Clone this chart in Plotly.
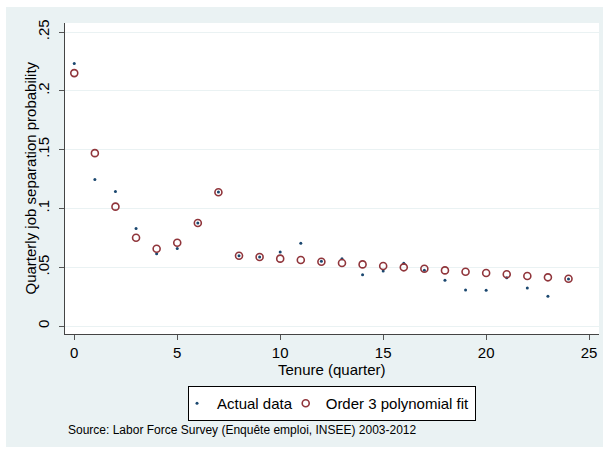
import plotly.graph_objects as go

# Tenure in quarters
tenure = list(range(25))

# Observed quarterly job separation probability
actual = [0.2232, 0.1247, 0.1145, 0.0830, 0.0615, 0.0660, 0.0876, 0.1140,
          0.0598, 0.0587, 0.0630, 0.0703, 0.0550, 0.0573, 0.0436, 0.0468,
          0.0533, 0.0475, 0.0389, 0.0306, 0.0304, 0.0411, 0.0323, 0.0253,
          0.0400]

# Fitted values (order 3 polynomial)
fitted = [0.2151, 0.1470, 0.1015, 0.0750, 0.0657, 0.0708, 0.0876, 0.1137,
          0.0598, 0.0587, 0.0573, 0.0561, 0.0547, 0.0536, 0.0524, 0.0510,
          0.0499, 0.0487, 0.0473, 0.0462, 0.0451, 0.0440, 0.0425, 0.0414,
          0.0402]

y_tickvals = [0, 0.05, 0.1, 0.15, 0.2, 0.25]
y_ticktext = ["0", ".05", ".1", ".15", ".2", ".25"]
x_tickvals = [0, 5, 10, 15, 20, 25]

NAVY = "#1a476f"
MAROON = "#90353b"
BG = "#eaf2f3"
FONT = "Liberation Sans, Arial, sans-serif"

W, H = 608, 450
L, R, T, B = 65, 9, 23, 116
pw, ph = W - L - R, H - T - B


def px_x(p):
    return (p - L) / pw


def px_y(p):
    return (H - B - p) / ph


fig = go.Figure()
fig.add_trace(go.Scatter(
    x=tenure, y=actual, mode="markers", name="Actual data",
    marker=dict(color=NAVY, size=3, symbol="circle"),
))
fig.add_trace(go.Scatter(
    x=tenure, y=fitted, mode="markers", name="Order 3 polynomial fit",
    marker=dict(color=MAROON, size=7, symbol="circle-open",
                line=dict(color=MAROON, width=1.6)),
))

shapes = [
    # graph region background
    dict(type="rect", xref="paper", yref="paper", layer="below",
         x0=px_x(6), x1=px_x(603), y0=px_y(447), y1=px_y(7),
         fillcolor=BG, line=dict(width=0)),
    # plot region
    dict(type="rect", xref="paper", yref="paper", layer="below",
         x0=0, x1=1, y0=0, y1=1, fillcolor="white", line=dict(width=0)),
]

fig.update_layout(
    width=W, height=H,
    margin=dict(l=L, r=R, t=T, b=B),
    paper_bgcolor="white",
    plot_bgcolor="white",
    font=dict(family=FONT, size=15, color="black"),
    shapes=shapes,
    showlegend=True,
    legend=dict(
        orientation="h", x=0.5, xanchor="center", y=px_y(386), yanchor="top",
        bgcolor="white", bordercolor="black", borderwidth=1,
        font=dict(family=FONT, size=15, color="black"),
        itemwidth=30, indentation=-12,
    ),
    annotations=[
        dict(text="Source: Labor Force Survey (Enquête emploi, INSEE) 2003-2012",
             xref="paper", yref="paper", x=px_x(66), y=px_y(430),
             xanchor="left", yanchor="middle", showarrow=False,
             font=dict(family=FONT, size=12, color="black")),
        dict(text="Tenure (quarter)", xref="paper", yref="paper",
             x=0.5, y=px_y(369), xanchor="center", yanchor="middle",
             showarrow=False, font=dict(family=FONT, size=15, color="black")),
        dict(text="Quarterly job separation probability", xref="paper",
             yref="paper", x=px_x(30), y=0.5, xanchor="center",
             yanchor="middle", textangle=-90, showarrow=False,
             font=dict(family=FONT, size=15, color="black")),
    ],
)

fig.update_xaxes(
    range=[-0.45, 25.48], tickvals=x_tickvals, ticks="outside", ticklen=5,
    tickcolor="#555555", showline=True, linecolor="#444444", linewidth=1,
    showgrid=False, zeroline=False, tickfont=dict(size=15),
)
fig.update_yaxes(
    range=[-0.0068, 0.2577], tickvals=y_tickvals, ticktext=y_ticktext,
    ticks="outside", ticklen=5, tickcolor="#555555", tickangle=-90,
    showline=True, linecolor="#444444", linewidth=1,
    showgrid=True, gridcolor=BG, gridwidth=1.3, zeroline=False,
    tickfont=dict(size=15), ticklabelstandoff=4,
)

fig.write_html("out.html")
